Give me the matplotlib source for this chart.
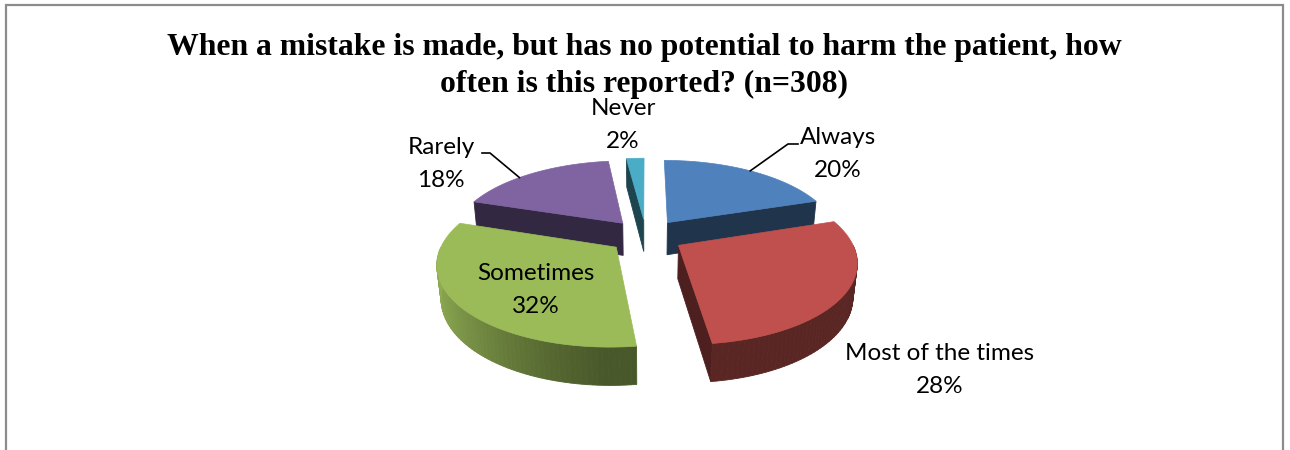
import numpy as np
import matplotlib
matplotlib.use("Agg")
import matplotlib.pyplot as plt
from matplotlib.patches import Polygon
from matplotlib.colors import to_rgb

# ---- data -------------------------------------------------------------
categories = ["Always", "Most of the times", "Sometimes", "Rarely", "Never"]
percentages = [20, 28, 32, 18, 2]
colors = ["#4F81BD", "#C0504D", "#9BBB59", "#8064A2", "#4BACC6"]
title_lines = ["When a mistake is made, but has no potential to harm the patient, how",
               "often is this reported? (n=308)"]

# label block centres (pixels)
label_pos = {
    "Always": (838, 154),
    "Most of the times": (940, 370),
    "Sometimes": (536, 290),
    "Rarely": (441, 164),
    "Never": (623, 125),
}
# leader line end (x, y) and elbow direction
leader = {"Always": (798, 144, "left"), "Rarely": (482, 153, "right")}
leader_angle_shift = {"Always": 0.0, "Rarely": -6.0}

# ---- 3D view parameters -------------------------------------------------
ELEV = np.radians(27)
DIST = 5.0
SCALE = 171
CX, CY = 646, 236
HEIGHT = 0.22
EXPLODE = 0.22
cE, sE = np.cos(ELEV), np.sin(ELEV)


def project(x, y, z):
    x, y, z = np.asarray(x, float), np.asarray(y, float), np.asarray(z, float)
    d = y * cE - z * sE
    k = DIST / (DIST + d)
    v = y * sE + z * cE
    return CX + SCALE * x * k, CY - SCALE * v * k


def shade(color, f):
    r, g, b = to_rgb(color)
    return (r * f, g * f, b * f)


fig = plt.figure(figsize=(12.9, 4.5), dpi=100)
ax = fig.add_axes([0, 0, 1, 1])
ax.set_xlim(0, 1290)
ax.set_ylim(450, 0)
ax.axis("off")

# chart frame
ax.plot([6, 6, 1283, 1283], [460, 5, 5, 460], color="#8c8c8c", lw=1.6,
        solid_joinstyle="miter", zorder=1)

fracs = np.array(percentages, float) / np.sum(percentages)
ends = np.cumsum(fracs) * 2 * np.pi
starts = ends - fracs * 2 * np.pi

slices = []
for i, name in enumerate(categories):
    a0, a1 = starts[i], ends[i]
    mid = 0.5 * (a0 + a1)
    ox, oy = EXPLODE * np.sin(mid), EXPLODE * np.cos(mid)
    slices.append((oy, i, a0, a1, mid, ox))

# paint far slices first
slices.sort(key=lambda s: -s[0])
z = 2
for oy, i, a0, a1, mid, ox in slices:
    col = colors[i]
    n = max(4, int(np.degrees(a1 - a0) / 1.5))
    th = np.linspace(a0, a1, n + 1)
    xs, ys = ox + np.sin(th), oy + np.cos(th)

    faces = []
    # radial walls (front-facing ones only)
    for ang, ny in ((a0, np.sin(a0)), (a1, -np.sin(a1))):
        if ny < -1e-9:
            px = [ox, ox + np.sin(ang), ox + np.sin(ang), ox]
            py = [oy, oy + np.cos(ang), oy + np.cos(ang), oy]
            pz = [0, 0, -HEIGHT, -HEIGHT]
            faces.append((px, py, pz, shade(col, 0.40)))
    # curved outer side
    for j in range(n):
        tm = 0.5 * (th[j] + th[j + 1])
        if np.cos(tm) < 0:
            f = 0.47 + 0.45 * max(0.0, -np.sin(tm)) ** 1.3
            px = [xs[j], xs[j + 1], xs[j + 1], xs[j]]
            py = [ys[j], ys[j + 1], ys[j + 1], ys[j]]
            pz = [0, 0, -HEIGHT, -HEIGHT]
            faces.append((px, py, pz, shade(col, f)))
    for px, py, pz, fc in faces:
        sx, sy = project(px, py, pz)
        ax.add_patch(Polygon(np.column_stack([sx, sy]), closed=True,
                             facecolor=fc, edgecolor=fc, lw=0.6, zorder=z))
    # top face
    tx = np.concatenate([[ox], xs])
    ty = np.concatenate([[oy], ys])
    sx, sy = project(tx, ty, np.zeros_like(tx))
    ax.add_patch(Polygon(np.column_stack([sx, sy]), closed=True,
                         facecolor=col, edgecolor=col, lw=0.5, zorder=z + 0.5))
    z += 1

# ---- labels -------------------------------------------------------------
label_font = dict(family="Lato", fontsize=17.5, color="black")
for i, name in enumerate(categories):
    lx, ly = label_pos[name]
    ax.text(lx, ly, f"{name}\n{percentages[i]}%", ha="center", va="center",
            linespacing=1.65, zorder=20, **label_font)
    if name in leader:
        mid = 0.5 * (starts[i] + ends[i])
        ox, oy = EXPLODE * np.sin(mid), EXPLODE * np.cos(mid)
        am = mid + np.radians(leader_angle_shift[name])
        axp, ayp = project(ox + np.sin(am), oy + np.cos(am), 0.0)
        ex, ey, side = leader[name]
        elbow_x = ex - 10 if side == "left" else ex + 8
        ax.plot([float(axp), elbow_x, ex], [float(ayp), ey, ey], color="black",
                lw=1.2, zorder=21)

for k, line in enumerate(title_lines):
    ax.text(644, 55 + 37 * k, line, ha="center", va="baseline",
            family="Liberation Serif", fontweight="bold", fontsize=22.8,
            zorder=20)

fig.savefig("out.png", dpi=100)
